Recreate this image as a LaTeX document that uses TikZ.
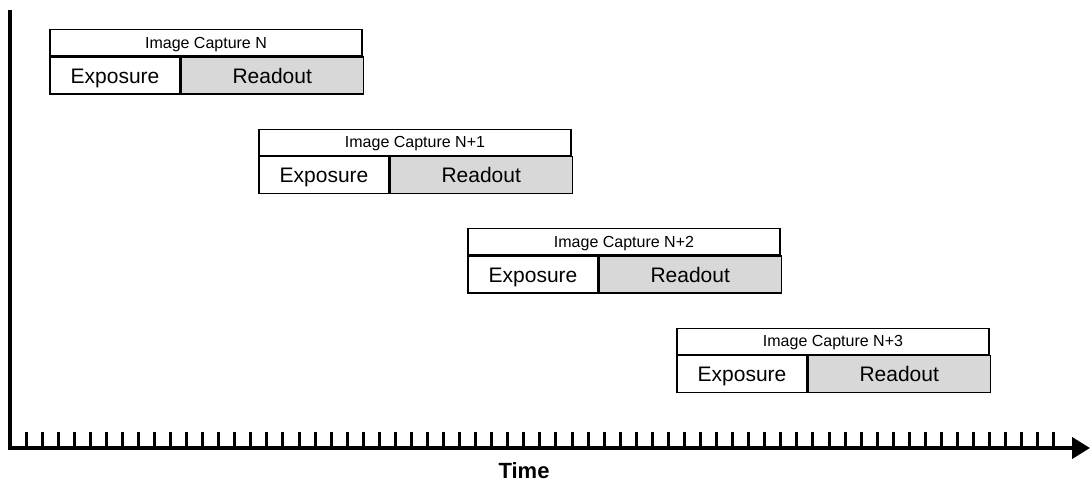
\documentclass[tikz,border=0pt]{standalone}
\usepackage{fontspec}
\setmainfont{Liberation Sans}
\usetikzlibrary{arrows.meta,positioning}
\definecolor{readgray}{RGB}{216,216,216}
\tikzstyle{cell}=[draw, line width=1.2pt, minimum height=37pt, inner sep=0pt, text height=15pt, text depth=0pt, font=\fontsize{21}{24}\selectfont]
\tikzstyle{expo}=[cell, minimum width=130pt]
\tikzstyle{readout}=[cell, minimum width=182pt, fill=readgray]
\tikzstyle{capture}=[draw, line width=1.2pt, minimum width=312pt, minimum height=26pt, inner sep=0pt, text height=11pt, text depth=0pt, font=\fontsize{16}{19}\selectfont]
\tikzstyle{axis}=[line width=4pt, -{Triangle[length=18pt,width=21pt]}]
\tikzstyle{tick}=[line width=3pt]

\begin{document}
\begin{tikzpicture}[x=1pt,y=-1pt,node distance=0pt]
\useasboundingbox (0,0) rectangle (1091,485);

% capture N
\node (e0) [expo] at (115,75.5) {Exposure};
\node (r0) [readout,right=of e0] {Readout};
\node (c0) [capture,above right=of e0.north west] {Image Capture N};

% capture N+1
\node (e1) [expo] at (324,175) {Exposure};
\node (r1) [readout,right=of e1] {Readout};
\node (c1) [capture,above right=of e1.north west] {Image Capture N+1};

% capture N+2
\node (e2) [expo] at (533,274.5) {Exposure};
\node (r2) [readout,right=of e2] {Readout};
\node (c2) [capture,above right=of e2.north west] {Image Capture N+2};

% capture N+3
\node (e3) [expo] at (742,374) {Exposure};
\node (r3) [readout,right=of e3] {Readout};
\node (c3) [capture,above right=of e3.north west] {Image Capture N+3};

% time axis
\coordinate (ytop) at (10,10);
\coordinate (origin) at (10,448);
\coordinate (xend) at (1090,448);
\foreach \k in {0,...,64}
  \draw[tick] (26+\k*16.06,432) -- (26+\k*16.06,448);
\draw[axis] (ytop) -- (origin) -- (xend);
\node (time) [inner sep=0pt, text height=15pt, text depth=0pt] at (524,470.5) {\fontsize{22}{25}\selectfont\bfseries Time};
\end{tikzpicture}
\end{document}
